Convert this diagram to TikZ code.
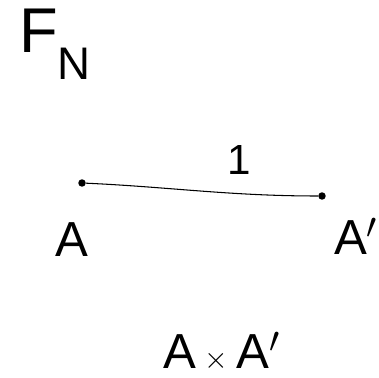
\documentclass[tikz,border=0pt]{standalone}
\usepackage{fontspec}
\setmainfont{Liberation Sans}
\usetikzlibrary{positioning}
\tikzset{
  endpt/.style={circle,fill,inner sep=1.5pt},
  lbl/.style={font=\fontsize{28}{30}\selectfont,inner sep=1pt}
}
\begin{document}
\begin{tikzpicture}[x=0.02cm,y=-0.02cm]
  \useasboundingbox (0,0) rectangle (379,378);
  % field name
  \node[lbl,font=\fontsize{36}{38}\selectfont] (fn) at (55,44) {F\raisebox{-0.8ex}{\fontsize{26}{26}\selectfont N}};
  % the segment A -- A'
  \node[endpt] (a) at (82,183) {};
  \node[endpt] (ap) at (322,196) {};
  \draw[semithick] (a) .. controls (170,187) and (230,196) .. (ap);
  \node[lbl,font=\fontsize{24}{26}\selectfont] (one) at (239,160) {1};
  \node[lbl] (la) at (72,240) {A};
  \node[lbl] (lap) at (356,236) {A$'$};
  % product
  \node[lbl] (prod) at (222,352) {A\,{\fontsize{16}{16}\selectfont$\times$}\,A$'$};
\end{tikzpicture}
\end{document}
